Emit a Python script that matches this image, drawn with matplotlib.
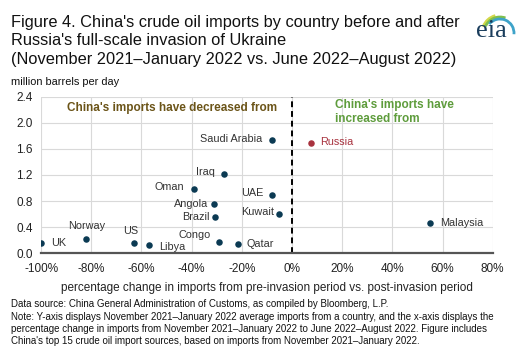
import numpy as np
import matplotlib
matplotlib.use("Agg")
import matplotlib.pyplot as plt
from matplotlib.patches import Arc

plt.rcParams['font.family'] = ['Liberation Sans', 'DejaVu Sans']

# данные
countries = ["UK", "Norway", "US", "Libya", "Oman", "Angola", "Brazil", "Iraq",
             "Congo", "Qatar", "Saudi Arabia", "UAE", "Kuwait", "Russia", "Malaysia"]
pct_change = [-100, -82, -63, -57, -39, -31, -30.5, -27, -29, -21.5, -8, -8, -5, 7.5, 55]
imports_before = [0.16, 0.22, 0.16, 0.13, 0.98, 0.75, 0.55, 1.21, 0.17, 0.14, 1.74, 0.89, 0.60, 1.69, 0.46]

x_ticks = [-100, -80, -60, -40, -20, 0, 20, 40, 60, 80]
y_ticks = [0.0, 0.4, 0.8, 1.2, 1.6, 2.0, 2.4]

# смещения подписей (в пикселях)
label_offsets = {
    "UK": (10, 0, "left"), "Norway": (0, 13, "center"), "US": (-3, 12, "center"),
    "Libya": (10, -2, "left"), "Oman": (-10, 2, "right"), "Angola": (-6, 0, "right"),
    "Brazil": (-6, 0, "right"), "Iraq": (-9, 2, "right"), "Congo": (-9, 7, "right"),
    "Qatar": (8, 0, "left"), "Saudi Arabia": (-10, 1, "right"), "UAE": (-8, 2, "right"),
    "Kuwait": (-5, 2, "right"), "Russia": (9, 1, "left"), "Malaysia": (10, 0, "left"),
}

navy = "#0b3a53"
red = "#a8323e"

fig = plt.figure(figsize=(5.27, 3.51), dpi=100)
ax = fig.add_axes([0.078, 0.279, 0.857, 0.445])

for name, x, y in zip(countries, pct_change, imports_before):
    col = red if name == "Russia" else navy
    ax.scatter(x, y, s=22, color=col, zorder=3, linewidths=0)
    dx, dy, ha = label_offsets[name]
    ax.annotate(name, (x, y), xytext=(dx, dy), textcoords="offset pixels",
                ha=ha, va="center", fontsize=7.8, color=col if name == "Russia" else "#333333")

ax.axvline(0, color="black", linestyle=(0, (3, 2)), linewidth=1.4, zorder=2)

ax.set_xlim(-100, 80)
ax.set_ylim(0, 2.4)
ax.set_xticks(x_ticks)
ax.set_xticklabels([f"{t}%" for t in x_ticks])
ax.set_yticks(y_ticks)
ax.set_yticklabels([f"{t:.1f}" for t in y_ticks])
ax.tick_params(length=0, labelsize=8.5, colors="#222222")
ax.tick_params(axis="x", pad=7)
ax.tick_params(axis="y", pad=6)
ax.grid(True, color="#d9d9d9", linewidth=0.8)
ax.set_axisbelow(True)
for s in ["top", "right", "left"]:
    ax.spines[s].set_visible(False)
ax.spines["bottom"].set_color("#555555")
ax.spines["bottom"].set_linewidth(1.6)

ax.set_xlabel("percentage change in imports from pre-invasion period vs. post-invasion period",
              fontsize=8.5, color="#222222", labelpad=5)

ax.text(-89.6, 2.23, "China's imports have decreased from", fontsize=8.5, fontweight="bold",
        color="#6b5418", va="center")
ax.text(17.1, 2.17, "China's imports have\nincreased from", fontsize=8.5, fontweight="bold",
        color="#5e9c3c", va="center", linespacing=1.2)

# заголовок
fig.text(0.021, 0.957, "Figure 4. China's crude oil imports by country before and after\n"
         "Russia's full-scale invasion of Ukraine\n"
         "(November 2021\u2013January 2022 vs. June 2022\u2013August 2022)",
         fontsize=11.8, va="top", ha="left", color="#111111", linespacing=1.27)
fig.text(0.021, 0.767, "million barrels per day", fontsize=7.9, va="center", ha="left", color="#111111")

# примечания
fig.text(0.021, 0.147, "Data source: China General Administration of Customs, as compiled by Bloomberg, L.P.\n"
         "Note: Y-axis displays November 2021\u2013January 2022 average imports from a country, and the x-axis displays the\n"
         "percentage change in imports from November 2021\u2013January 2022 to June 2022\u2013August 2022. Figure includes\n"
         "China's top 15 crude oil import sources, based on imports from November 2021\u2013January 2022.",
         fontsize=7.0, va="top", ha="left", color="#111111", linespacing=1.28)

# логотип eia (оси в пикселях)
lax = fig.add_axes([470 / 527, 1 - 50 / 351, 57 / 527, 50 / 351])
lax.set_xlim(470, 527)
lax.set_ylim(50, 0)
lax.axis("off")
lax.text(491, 31, "eia", fontsize=19, family="Liberation Serif", color="#1a3d5c",
         ha="center", va="center")
arcs = [(18, 105, 160, "#d4d84a"), (16, 70, 155, "#7fbf4d"), (14, -5, 140, "#3ea3c9")]
for r, t1, t2, c in arcs:
    lax.add_patch(Arc((500, 33), 2 * r, 2 * r, theta1=-t2, theta2=-t1, color=c, linewidth=2))

fig.savefig("out.png", dpi=100)
